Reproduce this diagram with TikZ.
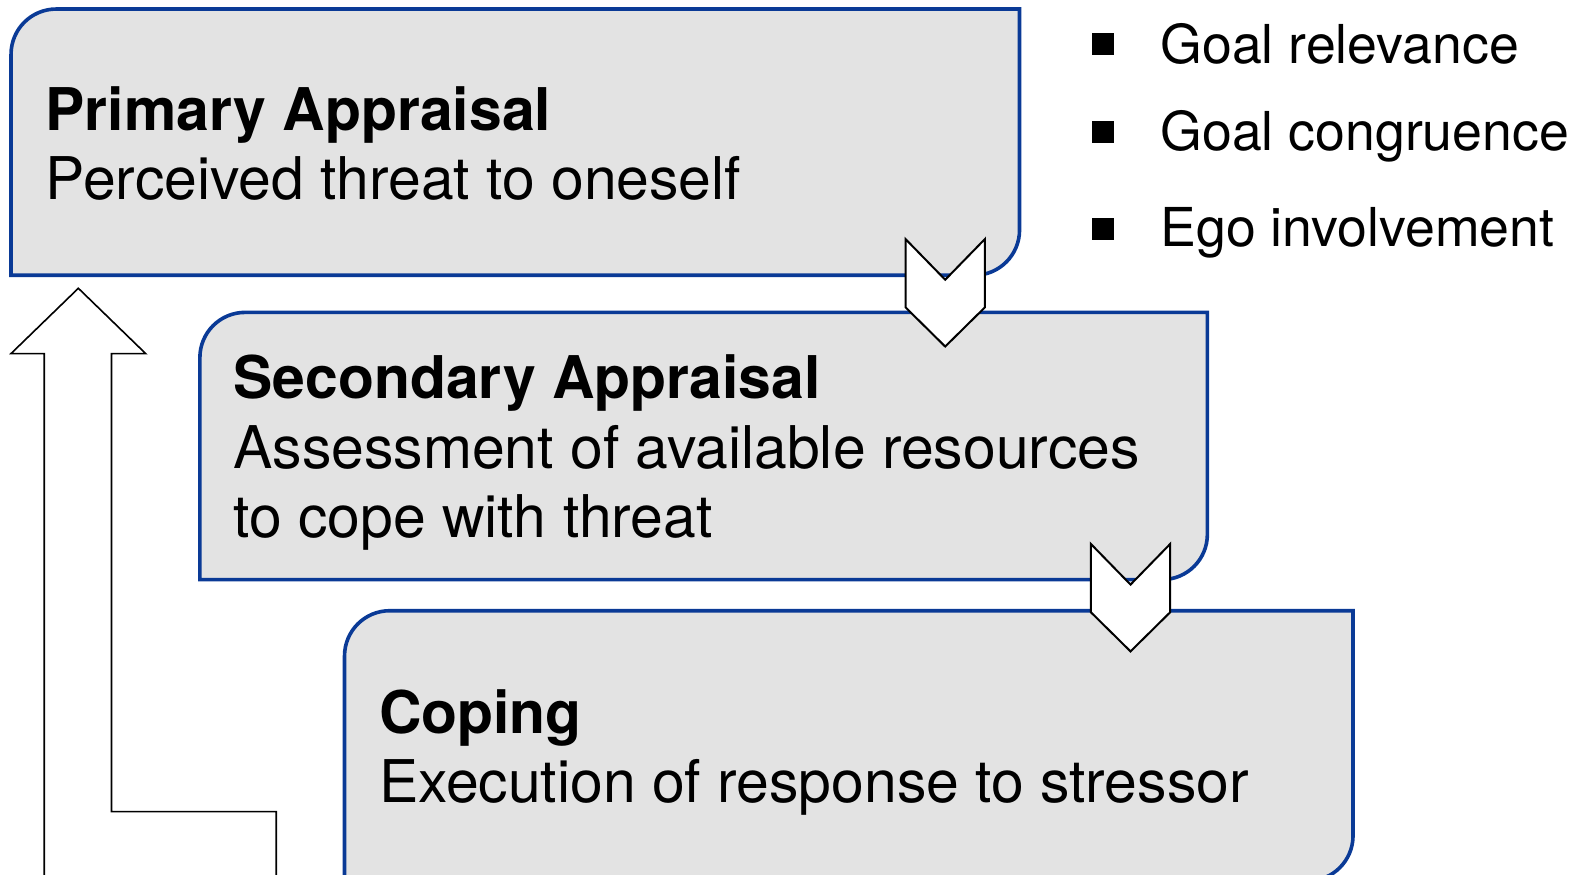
\documentclass[tikz,border=0pt]{standalone}
\usepackage{fontspec}
\setmainfont{TeX Gyre Heros}
\usepackage{xcolor}
\usetikzlibrary{positioning}
\definecolor{boxblue}{RGB}{10,58,150}
\definecolor{boxgray}{RGB}{227,227,227}

\tikzset{
	frame/.style={draw=boxblue,line width=1.8pt,fill=boxgray},
	boxtext/.style={anchor=base west,inner sep=0pt,align=left,font=\fontsize{29.3}{34.5}\selectfont},
	listtext/.style={anchor=base west,inner sep=0pt,font=\fontsize{26.7}{30}\selectfont},
	bullet/.style={fill=black,minimum size=11pt,inner sep=0pt},
	chevron/.style={draw=black,line width=1pt,fill=white,line join=miter},
	loopback/.style={draw=black,line width=0.8pt,fill=white,line join=miter}
}

% box with round top left and bottom right corners
\newcommand{\apbox}[4]{%
	\draw[frame] (#1,-#4) -- (#1,-#2-45) arc[start angle=180,end angle=90,radius=22.5pt]
		-- (#3,-#2) -- (#3,-#4+45) arc[start angle=0,end angle=-90,radius=22.5pt] -- cycle;}
\newcommand{\chev}[1]{%
	\draw[chevron,shift={#1}] (-39.5,0) -- (0,-40.5) -- (39.5,0) -- (39.5,-68) -- (0,-107) -- (-39.5,-68) -- cycle;}

\begin{document}
\begin{tikzpicture}[x=0.5pt,y=0.5pt]
	\useasboundingbox (0,0) rectangle (1568,-871);

	\apbox{11}{9}{1015}{274}
	\apbox{199}{311}{1202}{577}
	\apbox{343}{608}{1347}{877}

	% base is the last line
	\node[boxtext] (prim) at (45,-199) {\textbf{Primary Appraisal}\\Perceived threat to oneself};
	\node[boxtext] (sec) at (232,-535) {\textbf{Secondary Appraisal}\\Assessment of available resources\\to cope with threat};
	\node[boxtext] (cope) at (377,-799) {\textbf{Coping}\\Execution of response to stressor};

	\chev{(941,-238)}
	\chev{(1125.5,-541.5)}

	% back to primary appraisal
	\draw[loopback] (44,-877) -- (44,-352) -- (11,-352) -- (78,-287) -- (145,-352)
		-- (111,-352) -- (111,-808) -- (275,-808) -- (275,-877);

	\node[listtext] (rel) at (1155,-63) {Goal relevance};
	\node[listtext] (cong) at (1155,-150) {Goal congruence};
	\node[listtext] (ego) at (1155,-245) {Ego involvement};
	\node[bullet] (b1) at (1098.5,-44) {};
	\node[bullet] (b2) at (1098.5,-131) {};
	\node[bullet] (b3) at (1098.5,-228) {};
\end{tikzpicture}
\end{document}
